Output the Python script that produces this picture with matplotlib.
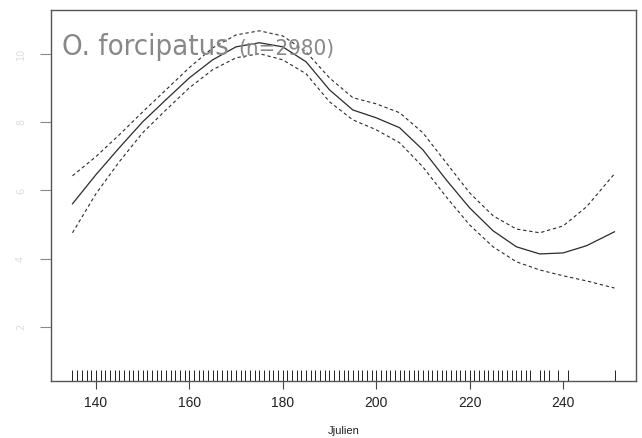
import matplotlib
matplotlib.use("Agg")
import matplotlib.pyplot as plt
import matplotlib.transforms as mtransforms
from matplotlib import font_manager

# smooth of Jjulien with +/- 2 se bands
days = [135, 140, 145, 150, 155, 160, 165, 170, 175, 180, 185, 190,
        195, 200, 205, 210, 215, 220, 225, 230, 235, 240, 245, 251]
fit = [5.61, 6.46, 7.25, 8.01, 8.66, 9.30, 9.83, 10.21, 10.33, 10.21, 9.77, 8.95,
       8.36, 8.13, 7.84, 7.19, 6.31, 5.49, 4.82, 4.35, 4.14, 4.17, 4.38, 4.79]
upper = [6.43, 6.99, 7.63, 8.30, 8.95, 9.60, 10.18, 10.56, 10.68, 10.53, 10.06, 9.30,
         8.72, 8.54, 8.28, 7.69, 6.81, 5.93, 5.26, 4.87, 4.76, 4.96, 5.52, 6.49]
lower = [4.76, 5.90, 6.84, 7.69, 8.36, 9.01, 9.54, 9.89, 10.01, 9.83, 9.42, 8.60,
         8.07, 7.78, 7.40, 6.69, 5.81, 4.99, 4.35, 3.91, 3.67, 3.50, 3.35, 3.14]

# observed days (rug)
rug_days = list(range(135, 234)) + [235, 236, 237, 239, 241, 251]

xticks = [140, 160, 180, 200, 220, 240]
yticks = [2, 4, 6, 8, 10]
ytick_labels = ["2", "4", "6", "8", "10"]

title_main = "O. forcipatus"
title_n = "(n=2980)"

# narrowest face we can find for the title
cond = [f for f in font_manager.fontManager.ttflist
        if f.name == "DejaVu Sans" and "ondensed" in f.fname and f.weight in (400, "normal")
        and f.style == "normal"]
if cond:
    title_font = font_manager.FontProperties(fname=cond[0].fname)
else:
    title_font = font_manager.FontProperties(family="DejaVu Sans", stretch="condensed")

fig = plt.figure(figsize=(6.42, 4.38), dpi=100)
ax = fig.add_axes([51 / 642, 57 / 438, 585 / 642, 371 / 438])

line_col = "#2b2b2b"
ax.plot(days, fit, color=line_col, lw=0.9)
ax.plot(days, upper, color=line_col, lw=0.8, ls=(0, (3, 2.5)))
ax.plot(days, lower, color=line_col, lw=0.8, ls=(0, (3, 2.5)))

# rug along the bottom
trans = mtransforms.blended_transform_factory(ax.transData, ax.transAxes)
ax.vlines(rug_days, 0, 0.03, transform=trans, color="#222222", lw=0.7)

ax.set_xlim(130.4, 255.6)
ax.set_ylim(0.416, 11.29)
ax.set_xticks(xticks)
ax.set_yticks(yticks)
ax.set_yticklabels(ytick_labels, rotation=90, va="center", color="#dddddd", fontsize=7)

for s in ax.spines.values():
    s.set_color("#555555")
    s.set_linewidth(1.0)
ax.tick_params(axis="x", length=6, width=0.8, color="#444444", labelsize=10,
               labelcolor="#222222", pad=5)
ax.tick_params(axis="y", length=8, width=0.8, color="#888888", pad=10)
for lab in ax.get_xticklabels():
    lab.set_fontfamily("Liberation Sans")

ax.set_xlabel("Jjulien", fontsize=8, family="Liberation Sans", color="#222222", labelpad=11)

fp_main = title_font.copy()
fp_main.set_size(21)
fp_n = title_font.copy()
fp_n.set_size(16)
ax.text(62 / 642, 383 / 438, title_main, transform=fig.transFigure,
        fontproperties=fp_main, color="#888888", ha="left", va="baseline")
ax.text(238 / 642, 383 / 438, title_n, transform=fig.transFigure,
        fontproperties=fp_n, color="#888888", ha="left", va="baseline")

fig.savefig("out.png", dpi=100)
